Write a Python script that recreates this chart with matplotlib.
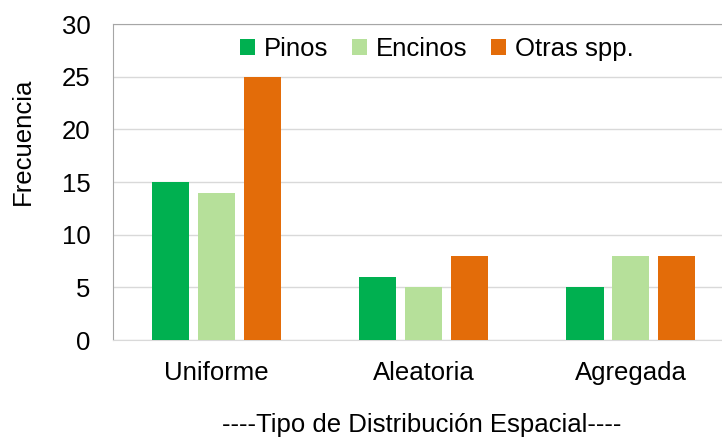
import matplotlib
matplotlib.use("Agg")
import matplotlib.pyplot as plt
import numpy as np

plt.rcParams['font.family'] = ['Liberation Sans', 'DejaVu Sans']

categories = ["Uniforme", "Aleatoria", "Agregada"]
series_names = ["Pinos", "Encinos", "Otras spp."]
pinos = [15, 6, 5]
encinos = [14, 5, 8]
otras = [25, 8, 8]
colors = ["#00B050", "#B6E09A", "#E36C09"]

FS = 18.5

fig = plt.figure(figsize=(7.22, 4.38), dpi=100)
ax = fig.add_axes([113/722, (438-340)/438, 1 - 113/722, (340-24)/438])

x = np.arange(len(categories))
step = 0.222
width = 0.18
for i, (vals, name, c) in enumerate(zip([pinos, encinos, otras], series_names, colors)):
    ax.bar(x + (i - 1) * step, vals, width, color=c, label=name, zorder=3)

ax.set_ylim(0, 30)
ax.set_yticks(range(0, 31, 5))
ax.set_xlim(-0.5, 2.44)
ax.set_xticks(x)
ax.set_xticklabels(categories, fontsize=FS)
ax.tick_params(axis='y', labelsize=FS, length=0, pad=16)
ax.tick_params(axis='x', length=0, pad=15)
ax.grid(axis='y', color='#D9D9D9', linewidth=1, zorder=0)
ax.spines['right'].set_visible(False)
ax.spines['top'].set_color('#A6A6A6')
ax.spines['left'].set_color('#A6A6A6')
ax.spines['bottom'].set_color('#D9D9D9')

leg = ax.legend(loc='center', bbox_to_anchor=(437/722, 1 - 49/438),
                bbox_transform=fig.transFigure, ncol=3, frameon=False,
                fontsize=FS, handlelength=0.6, handleheight=0.6, handletextpad=0.35,
                columnspacing=0.9, borderpad=0)

fig.text(23/722, 1 - 141/438, "Frecuencia", rotation=90, fontsize=FS, ha='center', va='center')
fig.text(422/722, 1 - 425/438, "----Tipo de Distribución Espacial----", fontsize=FS, ha='center', va='center')

fig.savefig("out.png", dpi=100)
